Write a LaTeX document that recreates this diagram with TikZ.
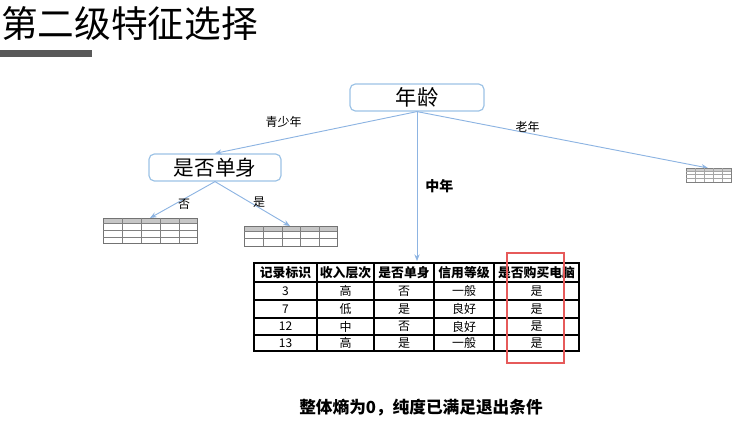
\documentclass[tikz,border=0pt]{standalone}
\usepackage{fontspec}
\setmainfont{Noto Sans CJK SC}
\usetikzlibrary{arrows.meta}
\definecolor{boxblue}{RGB}{157,195,230}
\definecolor{lineblue}{RGB}{141,180,226}
\definecolor{bargray}{RGB}{89,89,89}
\definecolor{markred}{RGB}{230,90,90}
\tikzset{
  featbox/.style={draw=boxblue, line width=0.9, rounded corners=4, fill=white, inner sep=0pt},
  branch/.style={draw=lineblue, line width=0.7, -{Stealth[length=5, width=4]}},
  brlabel/.style={inner sep=0.75pt, font=\fontsize{9}{10}\selectfont},
  cell/.style={inner sep=0pt, font=\fontsize{9}{10}\selectfont},
  headcell/.style={inner sep=0pt, font=\bfseries\fontsize{9.6}{11}\selectfont},
}
\begin{document}
\begin{tikzpicture}[x=0.75pt,y=0.75pt,yscale=-1,xscale=1]
  \useasboundingbox (0,0) rectangle (744,431);
  % title
  \node (title) [anchor=west, inner sep=0pt, font=\fontsize{27.5}{30}\selectfont] at (1,24) {第二级特征选择};
  \fill [bargray] (0,50) rectangle (92,57);
  % tree nodes
  \node (age) [featbox, minimum width=100.5, minimum height=20.25] at (417,97.5) {\fontsize{16}{18}\selectfont 年龄};
  \node (single) [featbox, minimum width=99, minimum height=20.25] at (215,167.5) {\fontsize{15.5}{18}\selectfont 是否单身};
  % leaf tables
  \coordinate (tabA) at (150,218);
  \coordinate (tabB) at (290,226);
  \coordinate (tabC) at (708,168);
  \coordinate (tabM) at (417,261);
  \draw [branch] (age.south) -- (single.north) node [brlabel, pos=0.66, above=8] {青少年};
  \draw [branch] (age.south) -- (tabC) node [brlabel, pos=0.38, above=-1] {老年};
  \draw [branch] (age.south) -- (tabM) node [pos=0.5, right=6, inner sep=0pt, font=\bfseries\fontsize{10.5}{12}\selectfont] {中年};
  \draw [branch] (single.south) -- (tabA) node [brlabel, pos=0.62, xshift=7] {否};
  \draw [branch] (single.south) -- (tabB) node [brlabel, pos=0.5, xshift=5, yshift=1] {是};
  % small tables
  \fill [gray!45] (103,218) rectangle (197,223);
  \draw [gray!90!black, line width=0.5] (103,218) rectangle (197,243);
  \foreach \y in {223,230,237} \draw [gray, line width=0.3] (103,\y) -- (197,\y);
  \foreach \x in {122,141,160,179} \draw [gray, line width=0.3] (\x,218) -- (\x,243);
  \fill [gray!45] (244,226) rectangle (337,231);
  \draw [gray!90!black, line width=0.5] (244,226) rectangle (337,246);
  \foreach \y in {231,238.5} \draw [gray, line width=0.3] (244,\y) -- (337,\y);
  \foreach \x in {263,282,300,319} \draw [gray, line width=0.3] (\x,226) -- (\x,246);
  \fill [gray!40] (686,168) rectangle (731,171);
  \draw [gray, line width=0.4] (686,168) rectangle (731,182);
  \foreach \y in {171,174.5,178} \draw [gray!70, line width=0.25] (686,\y) -- (731,\y);
  \foreach \x in {695,704,713,722} \draw [gray!70, line width=0.25] (\x,168) -- (\x,182);
  % main table
  \foreach \x in {317,374,434,494} \draw [line width=0.8] (\x,263) -- (\x,351);
  \foreach \y in {300,318,335} \draw [line width=0.8] (254,\y) -- (579,\y);
  \draw [line width=1.5] (254,282) -- (579,282);
  \draw [line width=2] (254,263) rectangle (579,351);
  \foreach \t [count=\c] in {记录标识,收入层次,是否单身,信用等级,是否购买电脑} {
    \pgfmathsetmacro{\cx}{{285.5,345.5,404,464,536.5}[\c-1]}
    \node (h\c) [headcell] at (\cx,272.5) {\t};
  }
  \foreach \r/\ry/\a/\b/\s/\d in {1/291/3/高/否/一般, 2/309/7/低/是/良好, 3/326.5/12/中/否/良好, 4/343/13/高/是/一般} {
    \node (r\r c1) [cell] at (285.5,\ry) {\a};
    \node (r\r c2) [cell] at (345.5,\ry) {\b};
    \node (r\r c3) [cell] at (404,\ry) {\s};
    \node (r\r c4) [cell] at (464,\ry) {\d};
    \node (r\r c5) [cell] at (536.5,\ry) {是};
  }
  \draw [markred, line width=0.9] (507,253) rectangle (564,363);
  % conclusion
  \node (result) [inner sep=0pt, font=\bfseries\fontsize{12.5}{14}\selectfont] at (421,408) {整体熵为0，纯度已满足退出条件};
\end{tikzpicture}
\end{document}
